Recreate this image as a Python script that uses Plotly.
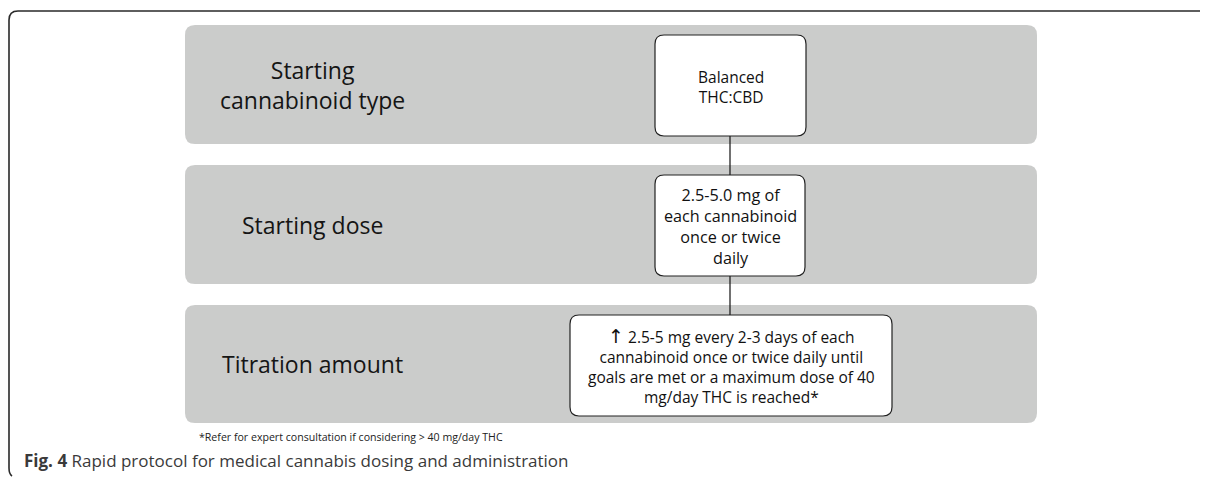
import plotly.graph_objects as go

# ---- data ----
band_labels = [["Starting", "cannabinoid type"], ["Starting dose"], ["Titration amount"]]
arrow = "<span style='font-family:DejaVu Sans;font-size:19px'>↑</span>"
box_texts = [
    ["Balanced", "THC:CBD"],
    ["2.5-5.0 mg of", "each cannabinoid", "once or twice", "daily"],
    [arrow + " 2.5-5 mg every 2-3 days of each", "cannabinoid once or twice daily until",
     "goals are met or a maximum dose of 40", "mg/day THC is reached*"],
]
footnote = "*Refer for expert consultation if considering > 40 mg/day THC"
caption = "<b>Fig. 4</b> Rapid protocol for medical cannabis dosing and administration"

# ---- layout geometry (page pixels; the page body has an 8px margin) ----
W, H = 1208, 481
OFF = 8
band_x0, band_x1 = 185, 1037
band_y = [(25, 144), (165, 284), (305, 423)]
box_geom = [(655, 806, 35, 136), (655, 805, 175, 276), (570, 892, 315, 416)]
box_fs = [15.5, 16.2, 15.5]
label_x = 312
label_fs = 23
conn_x = 730

FONT = "Open Sans"


def rrect(x0, x1, y0, y1, r):
    return (f"M {x0+r},{y0} L {x1-r},{y0} Q {x1},{y0} {x1},{y0+r} "
            f"L {x1},{y1-r} Q {x1},{y1} {x1-r},{y1} L {x0+r},{y1} "
            f"Q {x0},{y1} {x0},{y1-r} L {x0},{y0+r} Q {x0},{y0} {x0+r},{y0} Z")


shapes = []
annotations = []

# outer frame (top + left)
shapes.append(dict(type="path", path="M 1210,11 L 18,11 Q 9,11 9,20 L 9,468 Q 9,474 12,476",
                   line=dict(color="#2a2a2a", width=1.6), layer="above"))

for i, (y0, y1) in enumerate(band_y):
    shapes.append(dict(type="path", path=rrect(band_x0, band_x1, y0, y1, 10),
                       fillcolor="#cbcccb", line=dict(width=0), layer="below"))
    annotations.append(dict(x=label_x, y=(y0 + y1) / 2, text="<br>".join(band_labels[i]),
                            showarrow=False, xanchor="center", yanchor="middle", align="center",
                            font=dict(family=FONT, size=label_fs, color="#151515")))

# connectors
for a, b in [(0, 1), (1, 2)]:
    shapes.append(dict(type="line", x0=conn_x, x1=conn_x, y0=box_geom[a][3], y1=box_geom[b][2],
                       line=dict(color="#111", width=1.2), layer="below"))

for i, (x0, x1, y0, y1) in enumerate(box_geom):
    shapes.append(dict(type="path", path=rrect(x0, x1, y0, y1, 9),
                       fillcolor="white", line=dict(color="#222", width=1.2), layer="below"))
    annotations.append(dict(x=(x0 + x1) / 2, y=(y0 + y1) / 2 + 1, text="<br>".join(box_texts[i]),
                            showarrow=False, xanchor="center", yanchor="middle", align="center",
                            font=dict(family=FONT, size=box_fs[i], color="#111")))

annotations.append(dict(x=197, y=437, text=footnote, showarrow=False, xanchor="left", yanchor="middle",
                        font=dict(family=FONT, size=10.6, color="#222")))
annotations.append(dict(x=22, y=460, text=caption, showarrow=False, xanchor="left", yanchor="middle",
                        font=dict(family=FONT, size=17, color="#3a3a3a")))

fig = go.Figure()
fig.update_layout(
    width=W - OFF, height=H - OFF, margin=dict(l=0, r=0, t=0, b=0),
    paper_bgcolor="white", plot_bgcolor="white",
    xaxis=dict(range=[OFF, W], visible=False, fixedrange=True),
    yaxis=dict(range=[H, OFF], visible=False, fixedrange=True),
    shapes=shapes, annotations=annotations, showlegend=False,
)
fig.write_html("out.html")
